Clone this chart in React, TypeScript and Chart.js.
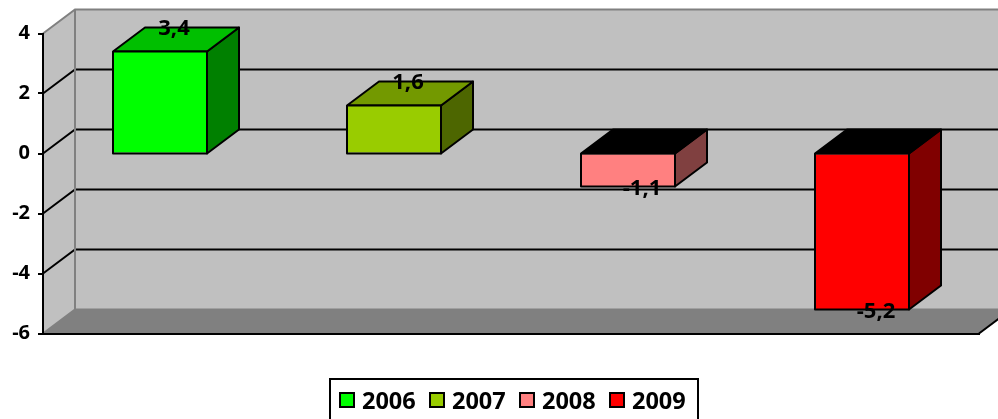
import React, { useEffect, useRef } from "react";
import { Chart, registerables } from "chart.js";

Chart.register(...registerables);

const categories = ["2006", "2007", "2008", "2009"];
const values = [3.4, 1.6, -1.1, -5.2];
const frontColors = ["#00FF00", "#99CC00", "#FF8080", "#FF0000"];
const sideColors = ["#008000", "#4D6600", "#804040", "#800000"];
const topColors = ["#00BF00", "#739900", "#000000", "#000000"];
const yMin = -6;
const yMax = 4;
const yStep = 2;

const FONT = "'Open Sans', sans-serif";
const DEPTH_X = 32;
const DEPTH_Y = 24;
const WALL = "#C0C0C0";
const FLOOR = "#808080";
const EDGE = "#808080";

function poly(ctx: CanvasRenderingContext2D, pts: number[][], fill: string | null, stroke: string | null, lw = 2) {
  ctx.beginPath();
  pts.forEach((p, i) => (i ? ctx.lineTo(p[0], p[1]) : ctx.moveTo(p[0], p[1])));
  if (fill) {
    ctx.closePath();
    ctx.fillStyle = fill;
    ctx.fill();
  }
  if (stroke) {
    ctx.strokeStyle = stroke;
    ctx.lineWidth = lw;
    ctx.stroke();
  }
}

function barBox(chart: any, bar: any) {
  const zero = chart.scales.y.getPixelForValue(0);
  return {
    l: Math.round(bar.x - bar.width / 2),
    r: Math.round(bar.x + bar.width / 2),
    t: Math.min(bar.y, zero),
    b: Math.max(bar.y, zero),
  };
}

const box3d = {
  id: "box3d",
  beforeDraw(chart: any) {
    const { ctx, chartArea: a, scales, width } = chart;
    const y = scales.y;
    const dx = DEPTH_X;
    const dy = DEPTH_Y;
    ctx.save();
    poly(ctx, [[a.left + dx, a.top - dy], [a.right + dx, a.top - dy], [a.right + dx, a.bottom - dy], [a.left + dx, a.bottom - dy]], WALL, null);
    poly(ctx, [[a.left, a.top], [a.left + dx, a.top - dy], [a.left + dx, a.bottom - dy], [a.left, a.bottom]], WALL, null);
    for (let v = yMin + yStep; v < yMax; v += yStep) {
      const py = y.getPixelForValue(v);
      poly(ctx, [[a.left, py], [a.left + dx, py - dy], [width, py - dy]], null, "#000000", 2);
    }
    poly(ctx, [[a.left, a.bottom], [a.right, a.bottom], [a.right + dx, a.bottom - dy], [a.left + dx, a.bottom - dy]], FLOOR, null);
    poly(ctx, [[a.left, a.top], [a.left + dx, a.top - dy], [width, a.top - dy]], null, EDGE, 2);
    poly(ctx, [[a.left + dx, a.top - dy], [a.left + dx, a.bottom - dy]], null, EDGE, 2);
    poly(ctx, [[a.left, a.bottom], [a.left + dx, a.bottom - dy], [width, a.bottom - dy]], null, EDGE, 2);
    poly(ctx, [[a.right, a.bottom], [a.right + dx, a.bottom - dy]], null, "#000000", 2);
    ctx.restore();
  },
  beforeDatasetsDraw(chart: any) {
    const { ctx } = chart;
    const dx = DEPTH_X;
    const dy = DEPTH_Y;
    ctx.save();
    ctx.lineJoin = "round";
    chart.getDatasetMeta(0).data.forEach((bar: any, i: number) => {
      const { l, r, t, b } = barBox(chart, bar);
      poly(ctx, [[r, t], [r + dx, t - dy], [r + dx, b - dy], [r, b]], sideColors[i], "#000000", 2);
      poly(ctx, [[l, t], [l + dx, t - dy], [r + dx, t - dy], [r, t]], topColors[i], "#000000", 2);
    });
    ctx.restore();
  },
  afterDatasetsDraw(chart: any) {
    const { ctx } = chart;
    ctx.save();
    ctx.lineJoin = "round";
    chart.getDatasetMeta(0).data.forEach((bar: any) => {
      const { l, r, t, b } = barBox(chart, bar);
      poly(ctx, [[l, t], [r, t], [r, b], [l, b], [l, t]], null, "#000000", 2);
    });
    ctx.fillStyle = "#000000";
    ctx.font = `bold 22px ${FONT}`;
    ctx.textAlign = "center";
    ctx.textBaseline = "middle";
    chart.getDatasetMeta(0).data.forEach((bar: any, i: number) => {
      const v = values[i];
      const text = v.toFixed(1).replace(".", ",");
      const ly = v >= 0 ? bar.y - 23 : bar.y + 2;
      ctx.fillText(text, bar.x + 14, ly);
    });
    ctx.restore();
  },
  afterDraw(chart: any) {
    const { ctx } = chart;
    ctx.save();
    const left = 330;
    const right = 698;
    const top = 379;
    ctx.strokeStyle = "#000000";
    ctx.lineWidth = 2;
    ctx.strokeRect(left, top, right - left, 60);
    ctx.font = `bold 23.5px ${FONT}`;
    ctx.textBaseline = "alphabetic";
    ctx.textAlign = "left";
    categories.forEach((c, i) => {
      const x = 340 + i * 90;
      ctx.fillStyle = frontColors[i];
      ctx.fillRect(x, 393, 14, 14);
      ctx.strokeRect(x, 393, 14, 14);
      ctx.fillStyle = "#000000";
      ctx.fillText(c, x + 22, 409);
    });
    ctx.restore();
  },
};

export default function App() {
  const ref = useRef<HTMLCanvasElement>(null);
  useEffect(() => {
    const chart = new Chart(ref.current!, {
      type: "bar",
      data: {
        labels: categories,
        datasets: [
          {
            data: values,
            backgroundColor: frontColors,
            borderWidth: 0,
            barPercentage: 0.4,
            categoryPercentage: 1,
          },
        ],
      },
      plugins: [box3d],
      options: {
        animation: false,
        responsive: false,
        layout: { padding: { left: 0, top: 33.5, right: 19, bottom: 84.5 } },
        plugins: { legend: { display: false }, tooltip: { enabled: false } },
        scales: {
          x: {
            afterFit(s: any) {
              s.height = 1;
            },
            grid: { drawOnChartArea: false, drawTicks: false },
            border: { color: "#000000", width: 2 },
            ticks: { display: false },
          },
          y: {
            min: yMin,
            max: yMax,
            afterFit(s: any) {
              s.width = 43;
            },
            grid: { drawOnChartArea: false, drawTicks: true, tickLength: 5, color: "#000000", lineWidth: 2 },
            border: { color: "#000000", width: 2 },
            ticks: {
              stepSize: yStep,
              padding: 8,
              color: "#000000",
              font: { family: FONT, weight: "bold", size: 20 },
            },
          },
        },
      },
    } as any);
    return () => chart.destroy();
  }, []);
  return (
    <div style={{ position: "fixed", left: 0, top: 0, width: 998, height: 419, background: "#fff", overflow: "hidden" }}>
      <canvas ref={ref} width={998} height={419} style={{ display: "block" }} />
    </div>
  );
}
